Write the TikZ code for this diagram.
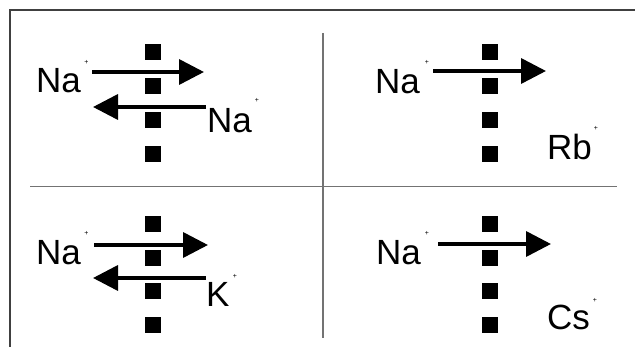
\documentclass[tikz,border=0pt]{standalone}
\usepackage{fontspec}
\setmainfont{Liberation Sans}
\usetikzlibrary{arrows.meta}
\tikzset{
  ion/.style={inner sep=0pt, anchor=base west, font=\fontsize{35}{35}\selectfont},
  charge/.style={inner sep=0pt, font=\fontsize{7}{7}\selectfont},
  pore/.style={fill=black, draw=none, minimum width=16pt, minimum height=16pt, inner sep=0pt},
  flux/.style={line width=3.6pt, -{Triangle[length=25pt,width=25pt]}},
  frame/.style={draw=black!75, line width=1.3pt},
  divider/.style={draw=black!55, line width=1.3pt}
}
\begin{document}
\begin{tikzpicture}[x=1pt,y=-1pt]
  \useasboundingbox (0,0) rectangle (635,347);
  % outer frame: top and left edges
  \draw[frame] (635,10) -- (10,10) -- (10,347);
  % quadrant dividers
  \draw[divider] (323,33) -- (323,338);
  \draw[divider] (30,186.5) -- (617,186.5);

  % membrane pores
  \foreach \px/\tag in {153/a, 490/b} {
    \foreach \py/\k in {52/1, 86/2, 120/3, 154/4} {
      \node[pore] (pore\tag\k) at (\px,\py) {};
    }
    \foreach \py/\k in {224/1, 258/2, 291/3, 325/4} {
      \node[pore] (pore\tag\k x) at (\px,\py) {};
    }
  }

  % top left: Na+ / Na+ exchange
  \node[ion] (naA) at (36,93) {Na};
  \node[charge] (naAp) at (86.5,62.5) {+};
  \node[ion] (naB) at (207,133) {Na};
  \node[charge] (naBp) at (257,100) {+};
  \coordinate (a1s) at (92,72);   \coordinate (a1e) at (204,72);
  \coordinate (a2s) at (206,107); \coordinate (a2e) at (93,107);
  \draw[flux] (a1s) -- (a1e);
  \draw[flux] (a2s) -- (a2e);

  % top right: Na+ with Rb+
  \node[ion] (naC) at (375,94) {Na};
  \node[charge] (naCp) at (427,62) {+};
  \node[ion] (rb) at (547,160) {Rb};
  \node[charge] (rbp) at (596,128) {+};
  \coordinate (b1s) at (433,71); \coordinate (b1e) at (546,71);
  \draw[flux] (b1s) -- (b1e);

  % bottom left: Na+ / K+ exchange
  \node[ion] (naD) at (36,265) {Na};
  \node[charge] (naDp) at (86.5,233) {+};
  \node[ion] (k) at (206,307) {K};
  \node[charge] (kp) at (235,276) {+};
  \coordinate (c1s) at (94,245);  \coordinate (c1e) at (208,245);
  \coordinate (c2s) at (206,278); \coordinate (c2e) at (93,278);
  \draw[flux] (c1s) -- (c1e);
  \draw[flux] (c2s) -- (c2e);

  % bottom right: Na+ with Cs+
  \node[ion] (naE) at (376,265) {Na};
  \node[charge] (naEp) at (427,233) {+};
  \node[ion] (cs) at (547,330) {Cs};
  \node[charge] (csp) at (595,300) {+};
  \coordinate (d1s) at (438,244); \coordinate (d1e) at (551,244);
  \draw[flux] (d1s) -- (d1e);
\end{tikzpicture}
\end{document}
